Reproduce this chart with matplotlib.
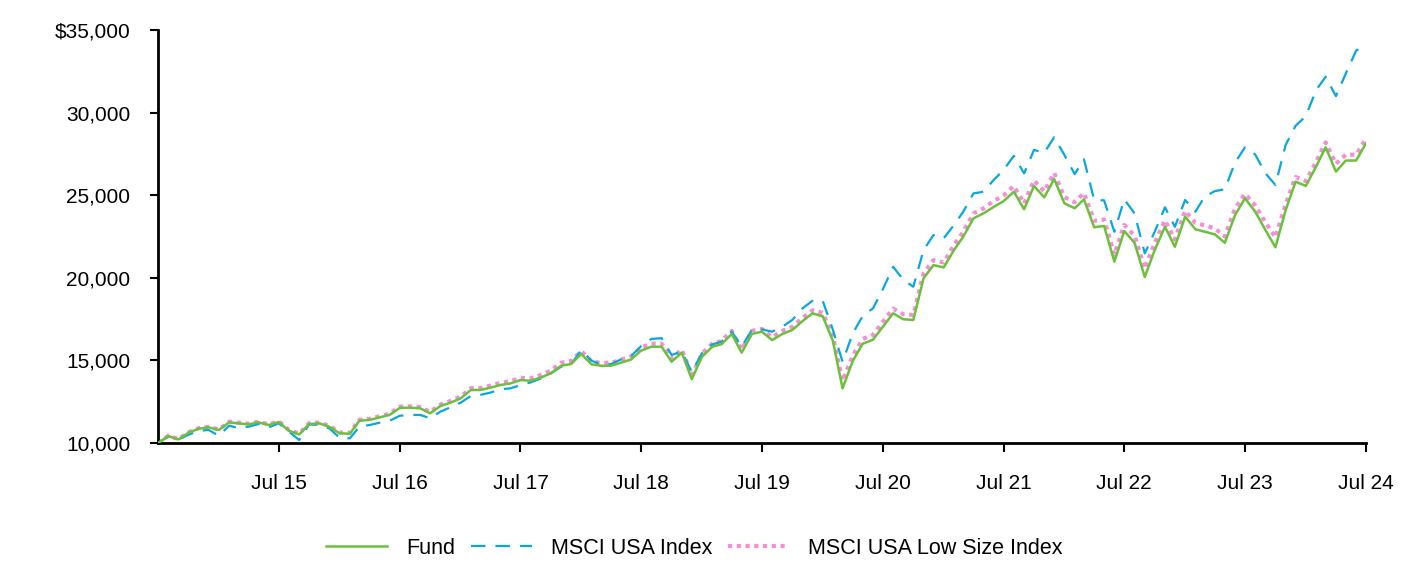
import pandas as pd
import matplotlib
matplotlib.use('Agg')
import matplotlib.pyplot as plt
from matplotlib.ticker import FuncFormatter

plt.rcParams['font.family'] = ['Liberation Sans', 'DejaVu Sans']

# Valori mensili (lug 2014 - lug 2024), crescita di $10.000
fund = [10000, 10420, 10220, 10620, 10870, 10950, 10790, 11250, 11190, 11130,
        11250, 11090, 11270, 10740, 10520, 11150, 11190, 10990, 10590, 10560,
        11350, 11400, 11550, 11710, 12130, 12140, 12100, 11800, 12240, 12440,
        12700, 13210, 13210, 13350, 13510, 13610, 13810, 13770, 13970, 14220,
        14680, 14780, 15390, 14760, 14680, 14680, 14860, 15060, 15600, 15830,
        15830, 14920, 15470, 13870, 15220, 15830, 15980, 16600, 15470, 16600,
        16740, 16230, 16600, 16840, 17380, 17850, 17670, 16180, 13310, 14970,
        16010, 16250, 17040, 17850, 17490, 17450, 19970, 20770, 20630, 21680,
        22490, 23600, 23900, 24290, 24640, 25210, 24150, 25560, 24870, 25980,
        24510, 24210, 24750, 23060, 23140, 20980, 22830, 22120, 20050, 21680,
        23090, 21880, 23700, 22940, 22790, 22630, 22120, 23800, 24810, 24000,
        22890, 21850, 24100, 25820, 25560, 26730, 27900, 26430, 27100, 27100,
        28140]

msci_usa = [10000, 10400, 10220, 10500, 10740, 10790, 10440, 11050, 10910, 10990,
            11150, 10950, 11190, 10690, 10180, 11130, 11090, 10890, 10320, 10280,
            10990, 11090, 11230, 11350, 11650, 11700, 11700, 11500, 11900, 12160,
            12440, 12850, 12910, 13050, 13250, 13310, 13510, 13670, 13910, 14220,
            14620, 14760, 15630, 14980, 14760, 14780, 15060, 15270, 15870, 16300,
            16350, 15330, 15530, 14300, 15430, 15970, 16130, 16740, 15830, 16840,
            16880, 16740, 17040, 17450, 18150, 18610, 18610, 16840, 14920, 16640,
            17690, 18150, 19310, 20670, 19870, 19460, 21680, 22590, 22390, 23200,
            24000, 25110, 25210, 25920, 26530, 27380, 26320, 27740, 27570, 28510,
            27430, 26280, 27170, 24710, 24690, 22790, 24750, 23900, 21480, 22790,
            24270, 23090, 24710, 24000, 24910, 25250, 25360, 26980, 27900, 27460,
            26320, 25620, 28040, 29200, 29790, 31360, 32170, 31000, 32370, 33750,
            34090]

msci_low_size = [10000, 10440, 10240, 10650, 10900, 10980, 10820, 11290, 11230, 11170,
                 11290, 11130, 11310, 10790, 10570, 11200, 11240, 11040, 10640, 10610,
                 11410, 11460, 11620, 11780, 12200, 12220, 12180, 11880, 12330, 12540,
                 12800, 13320, 13320, 13470, 13640, 13740, 13950, 13910, 14120, 14380,
                 14860, 14960, 15560, 14930, 14850, 14850, 15040, 15240, 15790, 16020,
                 16010, 15100, 15660, 14070, 15410, 16020, 16170, 16790, 15650, 16790,
                 16900, 16410, 16790, 17040, 17570, 18030, 17880, 16420, 13760, 15280,
                 16300, 16540, 17340, 18130, 17790, 17750, 20270, 21070, 20930, 21980,
                 22790, 23900, 24200, 24650, 24980, 25560, 24500, 25900, 25230, 26350,
                 24880, 24580, 25130, 23450, 23530, 21400, 23200, 22550, 20550, 22120,
                 23480, 22320, 24050, 23320, 23170, 22990, 22500, 24200, 25080, 24380,
                 23350, 22450, 24450, 26100, 25850, 27020, 28200, 26900, 27450, 27450,
                 28420]

dates = pd.date_range('2014-07-01', periods=len(fund), freq='MS')
tick_dates = [d for d in dates if d.month == 7 and d.year > 2014]
tick_labels = [d.strftime('Jul %y') for d in tick_dates]

fig = plt.figure(figsize=(14.16, 5.64), dpi=100)
ax = fig.add_axes([0.1116, 0.2145, 0.8531, 0.7323])

# Disegna le tre serie
l_low, = ax.plot(dates, msci_low_size, color='#F48ED8', lw=3.0,
                 linestyle=(0, (1, 1.1)), label='MSCI USA Low Size Index', zorder=2)
l_usa, = ax.plot(dates, msci_usa, color='#0AA6E0', lw=1.6,
                 linestyle=(0, (6.5, 4.5)), label='MSCI USA Index', zorder=3)
l_fund, = ax.plot(dates, fund, color='#6DC03C', lw=1.8, label='Fund', zorder=4)

ax.set_xlim(dates[0], dates[-1])
ax.set_ylim(10000, 35000)
ax.set_yticks(range(10000, 35001, 5000))
ax.yaxis.set_major_formatter(FuncFormatter(
    lambda v, p: f'${v:,.0f}' if v == 35000 else f'{v:,.0f}'))
ax.set_xticks(tick_dates)
ax.set_xticklabels(tick_labels)

ax.tick_params(axis='y', length=6, width=1.5, pad=14, labelsize=15)
ax.tick_params(axis='x', length=6.5, width=1.5, pad=15.5, labelsize=15)

for s in ['top', 'right']:
    ax.spines[s].set_visible(False)
for s in ['left', 'bottom']:
    ax.spines[s].set_linewidth(2)

fig.legend(handles=[l_fund, l_usa, l_low], loc='center', ncol=3,
           bbox_to_anchor=(0.4905, 0.028), frameon=False, fontsize=15.5,
           handlelength=2.8, handletextpad=0.9, columnspacing=0.75)

fig.savefig('out.png', dpi=100)
